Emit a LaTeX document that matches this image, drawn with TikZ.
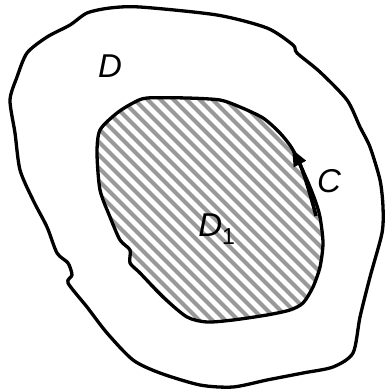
\documentclass[tikz,border=0pt]{standalone}
\usepackage{fontspec}
\setmainfont{Liberation Sans}
\usetikzlibrary{arrows.meta}

\begin{document}
\begin{tikzpicture}[x=1pt,y=-1pt,
bnd/.style={line width=3.3pt,line join=round},
hatch/.style={draw=black!40,line width=4pt},
lbl/.style={font=\fontsize{33}{34}\selectfont\itshape,inner sep=0pt},
arr/.style={-{Triangle[length=17pt,width=13pt]},line width=3.6pt}
]
\useasboundingbox (0,0) rectangle (385,390);
% outer region D
\draw[bnd] plot[smooth cycle,tension=0.45] coordinates {
(140,7) (217,15) (267,28) (293,45) (297,53) (320,72) (347,100) (360,127)
(370,147) (380,180) (383,207) (382,233) (370,277) (360,317) (353,353)
(333,367) (303,373) (267,380) (233,387) (200,385) (160,373) (133,360)
(107,333) (87,307) (68,283) (72,275) (68,263) (57,253) (47,227) (33,200)
(20,170) (15,133) (10,100) (17,77) (27,53) (47,37) (70,25) (87,13) (110,8)};
% hatched region D1
\draw[bnd,path picture={
  \foreach \i in {-420,-407,...,400}
    \draw[hatch] (\i,0) -- ++(420,420);
}] plot[smooth cycle,tension=0.45] coordinates {
(147,98) (187,98) (220,100) (240,107) (263,118) (280,133) (293,150)
(307,180) (315,200) (320,217) (323,243) (320,267) (313,287) (303,303)
(290,310) (267,315) (233,320) (207,322) (187,317) (163,297) (140,273)
(130,263) (130,250) (120,240) (110,217) (100,190) (97,153) (100,130)
(117,113) (133,103)};
% boundary C with direction
\coordinate (cs) at (316,216);
\coordinate (ce) at (292,149);
\draw[arr] (cs) .. controls (310,192) and (302,168) .. (ce);
\node[lbl] (d) at (110,66) {D};
\node[lbl] (c) at (329,181) {C};
\node[lbl] (d1) at (217,229) {D\textsubscript{\upshape 1}};
\end{tikzpicture}
\end{document}
